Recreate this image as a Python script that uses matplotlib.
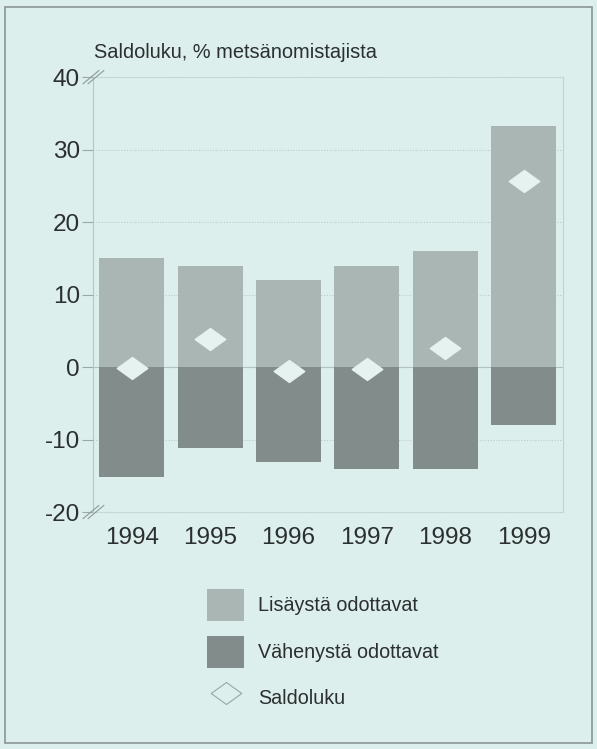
import matplotlib.pyplot as plt
import numpy as np
from matplotlib.patches import Patch, Rectangle
from matplotlib.lines import Line2D
from matplotlib.path import Path

# metsänomistajien odotukset vuosittain, %
years = ["1994", "1995", "1996", "1997", "1998", "1999"]
lisays = [15, 14, 12, 14, 16, 33.3]
vahenys = [-15.2, -11.2, -13.1, -14.1, -14.1, -8]
saldo = [-0.1, 3.9, -0.6, -0.3, 2.6, 25.7]

yticks = [-20, -10, 0, 10, 20, 30, 40]

bg = "#dcefec"
light = "#a9b6b4"
dark = "#818c8b"
textc = "#2b2f2f"

plt.rcParams['font.family'] = ['Liberation Sans', 'DejaVu Sans']

fig = plt.figure(figsize=(5.97, 7.49), dpi=100)
fig.patch.set_facecolor(bg)
fig.patches.append(Rectangle((0.009, 0.008), 0.982, 0.982, transform=fig.transFigure,
                             fill=False, edgecolor="#8a9593", linewidth=1.2))

ax = fig.add_axes([0.155, 0.3164, 0.788, 0.5806])
ax.set_facecolor(bg)

x = np.arange(len(years))
ax.bar(x, lisays, width=0.83, color=light, zorder=2)
ax.bar(x, vahenys, width=0.83, color=dark, zorder=2)

# litistetty vinoneliö saldoluvulle
diamond = Path([(-1, 0), (0, 0.72), (1, 0), (0, -0.72), (-1, 0)],
               [Path.MOVETO, Path.LINETO, Path.LINETO, Path.LINETO, Path.CLOSEPOLY])
ax.plot(x, saldo, linestyle="none", marker=diamond, markersize=22,
        markerfacecolor="#e6f2ef", markeredgecolor="#e6f2ef", zorder=3)

ax.set_xlim(-0.5, 5.5)
ax.set_ylim(-20, 40)
ax.set_yticks(yticks)
ax.set_yticklabels([str(t) for t in yticks])
ax.set_xticks(x)
ax.set_xticklabels(years)

for t in yticks[1:-1]:
    ax.axhline(t, color="#bcccca", linewidth=0.8, linestyle=(0, (1, 1.5)), zorder=1)
ax.axhline(0, color="#b3c2c0", linewidth=0.8, zorder=1)

for s in ["top", "bottom"]:
    ax.spines[s].set_color("#c3d1cf")
    ax.spines[s].set_linestyle((0, (1, 1.5)))
    ax.spines[s].set_linewidth(0.8)
ax.spines["left"].set_color("#b8c7c5")
ax.spines["left"].set_linewidth(0.8)
ax.spines["right"].set_color("#c3d1cf")
ax.spines["right"].set_linewidth(0.8)

ax.tick_params(axis="y", length=8, width=0.8, color="#9aa8a6", labelsize=17.5,
               labelcolor=textc, pad=1)
ax.tick_params(axis="x", length=0, labelsize=17.5, labelcolor=textc, pad=11)

# katkoviivat akselin päissä
for yv in (40, -20):
    for off in (0, 5):
        ax.plot([-0.62 + off / 78.6, -0.42 + off / 78.6], [yv - 0.9, yv + 0.9],
                transform=ax.transData, color="#8d9a98", linewidth=0.8,
                clip_on=False, zorder=4)

fig.text(0.158, 0.930, "Saldoluku, % metsänomistajista", fontsize=14.4,
         color=textc, ha="left", va="center")

handles = [Patch(facecolor=light, edgecolor="none"),
           Patch(facecolor=dark, edgecolor="none"),
           Line2D([], [], linestyle="none", marker=diamond, markersize=22,
                  markerfacecolor="none", markeredgecolor="#9aa6a4", markeredgewidth=0.8)]
labels = ["Lisäystä odottavat", "Vähenystä odottavat", "Saldoluku"]
fig.legend(handles, labels, loc="upper left", bbox_to_anchor=(0.317, 0.237),
           frameon=False, fontsize=14.2, handlelength=1.9, handleheight=2.1,
           labelspacing=0.75, handletextpad=0.7, labelcolor=textc)

fig.savefig("out.png", dpi=100, facecolor=bg)
